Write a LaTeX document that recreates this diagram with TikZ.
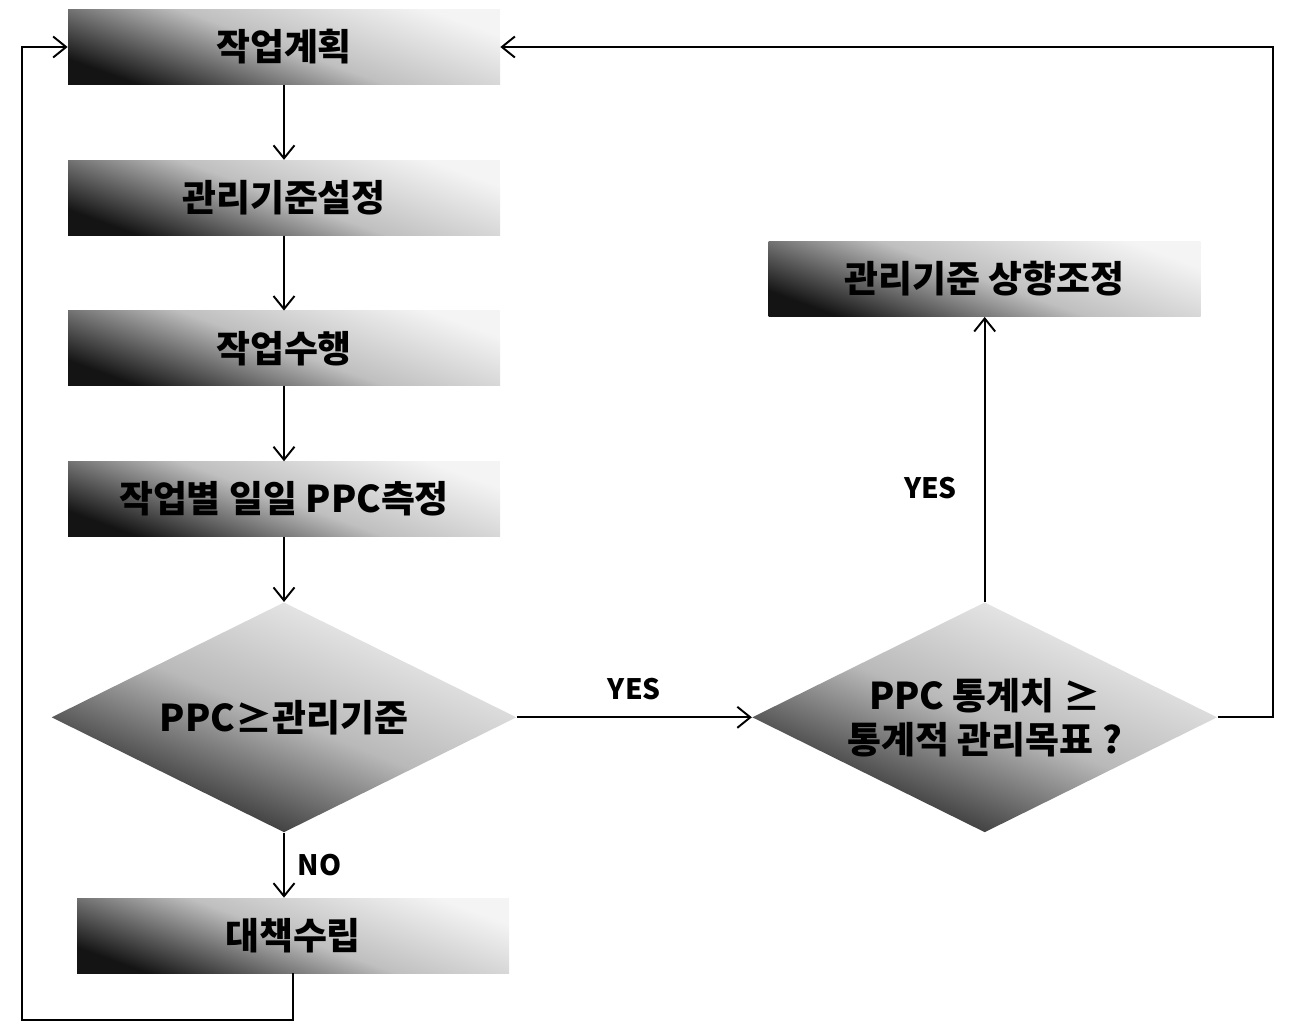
\documentclass[tikz,border=0pt]{standalone}
\usepackage{fontspec}
\newfontfamily\krfont{Noto Sans CJK KR}
\usetikzlibrary{shapes.geometric, arrows.meta, positioning, calc}
\definecolor{shadedark}{HTML}{141414}
\definecolor{shadelight}{HTML}{F4F4F4}

\begin{document}
\begin{tikzpicture}[
    node distance=1.5cm and 4.7cm,
    font=\krfont\bfseries\fontsize{21}{25}\selectfont,
    stepbox/.style={rectangle, shading=axis, top color=shadelight, bottom color=shadedark, middle color=gray!50, shading angle=-20, minimum width=8.64cm, minimum height=1.5cm, align=center, inner sep=2pt},
    decision/.style={diamond, aspect=2, shading=axis, top color=shadelight, bottom color=shadedark, middle color=gray!55, shading angle=-22, minimum width=9.3cm, minimum height=4.6cm, align=center, inner sep=0pt},
    tag/.style={font=\krfont\bfseries\fontsize{16}{18}\selectfont},
    arrow/.style={-{Straight Barb[length=2.6mm, width=4.2mm]}, line width=1.1pt, color=black}
]
    \useasboundingbox (0,0) rectangle (26.12,-20.5);

    \node[stepbox] (plan) at (5.68,-0.94) {작업계획};
    \node[stepbox, below=of plan] (setstd) {관리기준설정};
    \node[stepbox, below=of setstd] (work) {작업수행};
    \node[stepbox, below=of work] (measure) {작업별 일일 PPC측정};
    \node[decision, below=1.3cm of measure] (check) {PPC≥관리기준};
    \node[stepbox, below=1.3cm of check, xshift=0.18cm] (remedy) {대책수립};
    \node[decision, right=of check] (stat) {PPC 통계치 ≥\\통계적 관리목표 ?};
    \node[stepbox, above=5.7cm of stat] (raise) {관리기준 상향조정};

    \coordinate (loopL) at (0.44,-20.4);

    \draw[arrow] (plan) -- (setstd);
    \draw[arrow] (setstd) -- (work);
    \draw[arrow] (work) -- (measure);
    \draw[arrow] (measure) -- (check);
    \draw[arrow] (check.south) -- node[tag, right=4pt] {NO} (check.south |- remedy.north);
    \draw[arrow] (check) -- node[tag, above=6pt] {YES} (stat);
    \draw[arrow] (stat) -- node[tag, left=12pt, pos=0.4] {YES} (raise);
    \draw[arrow] (remedy.south) |- (loopL) |- (plan.west);
    \draw[arrow] (stat.east) -- ++(1.1,0) |- (plan.east);
\end{tikzpicture}
\end{document}
